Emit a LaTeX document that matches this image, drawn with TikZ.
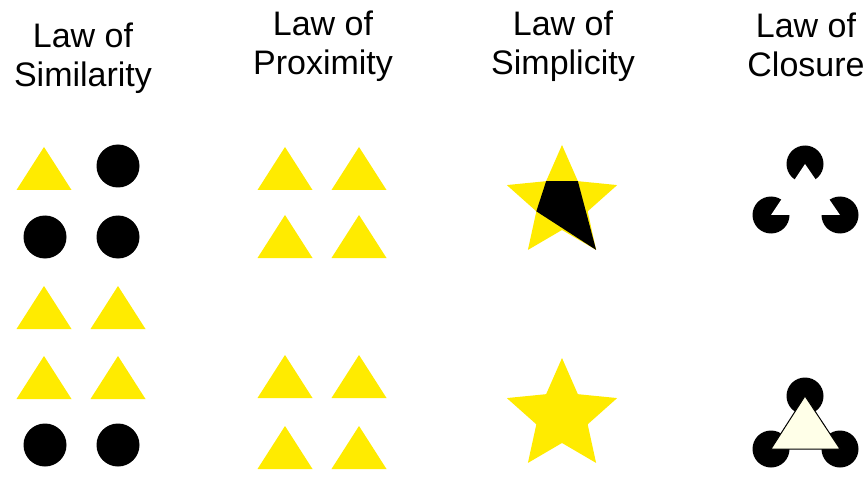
\documentclass[tikz,border=0pt]{standalone}
\usepackage{fontspec}
\setmainfont{Liberation Sans}
\usetikzlibrary{shapes.geometric}
\definecolor{lawyellow}{RGB}{255,235,0}
\definecolor{cream}{RGB}{255,255,232}

\begin{document}
\begin{tikzpicture}[x=1pt, y=-1pt,
  title/.style={align=center, font=\fontsize{34}{39.5}\selectfont, inner sep=0pt, anchor=base},
  dot/.style={circle, fill=black, minimum size=43pt, inner sep=0pt, outer sep=0pt},
  blob/.style={circle, fill=black, minimum size=37pt, inner sep=0pt, outer sep=0pt},
  bigstar/.style={star, star points=5, star point ratio=2.15, minimum size=116pt,
                  fill=lawyellow, inner sep=0pt, outer sep=0pt},
  tri/.pic={\fill[lawyellow] (-27.5,21.5) -- (0,-21.5) -- (27.5,21.5) -- cycle;},
]
\useasboundingbox[fill=white] (0,0) rectangle (867,489);

% --- titles ---
\node[title] (tsim)  at (83,87)  {Law of\\Similarity};
\node[title] (tprox) at (323,75) {Law of\\Proximity};
\node[title] (tsimp) at (563,75) {Law of\\Simplicity};
\node[title] (tclos) at (806,77) {Law of\\Closure};

% --- similarity ---
\pic at (44,168.5) {tri};
\node[dot] (d1) at (118,166) {};
\node[dot] (d2) at (45,237) {};
\node[dot] (d3) at (118,237) {};
\foreach \x in {44,118} {
  \pic at (\x,307.5) {tri};
  \pic at (\x,377.5) {tri};
}
\node[dot] (d4) at (45,445) {};
\node[dot] (d5) at (118,445) {};

% --- proximity ---
\foreach \y in {168.5,236.5,376.5,447.5} {
  \pic at (285,\y) {tri};
  \pic at (359,\y) {tri};
}

% --- simplicity ---
\node[bigstar] (s1) at (562,203) {};
\fill (s1.inner point 1) -- (s1.inner point 5) -- (s1.outer point 4)
  -- (s1.inner point 2) -- cycle;
\node[bigstar] (s2) at (562,416) {};

% --- closure ---
\node[blob] (c1) at (805,164) {};
\node[blob] (c2) at (771,215) {};
\node[blob] (c3) at (840,215) {};
\fill[white] (c1.center) -- (c2.center) -- (c3.center) -- cycle;

\node[blob] (k1) at (805,396) {};
\node[blob] (k2) at (771,449) {};
\node[blob] (k3) at (840,449) {};
\filldraw[fill=cream, draw=black, line width=1pt]
  (k1.center) -- (k2.center) -- (k3.center) -- cycle;

\end{tikzpicture}
\end{document}
